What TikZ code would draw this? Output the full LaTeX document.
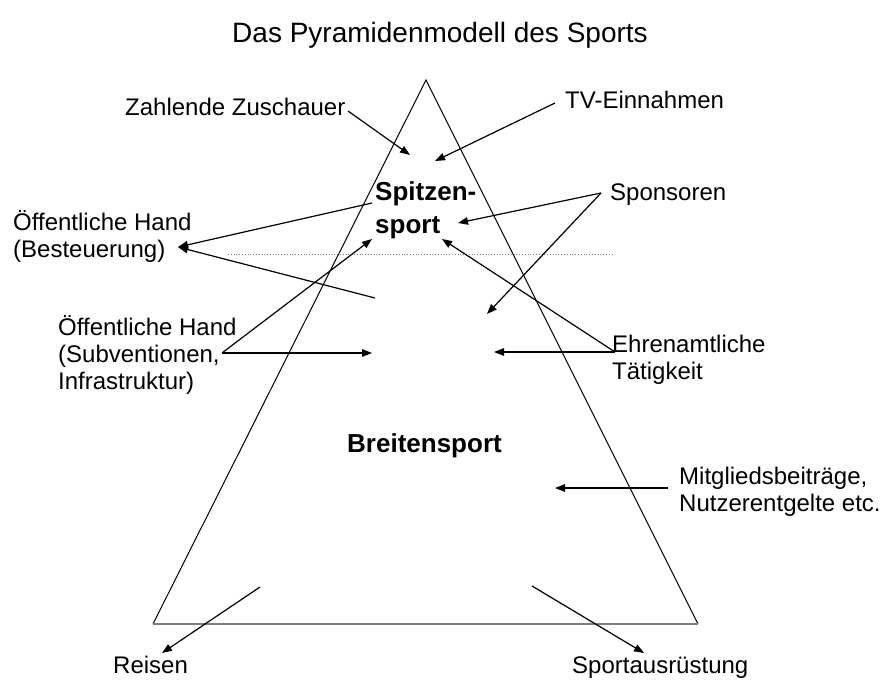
\documentclass[tikz,border=0pt]{standalone}
\usepackage{fontspec}
\setmainfont{Liberation Sans}
\usetikzlibrary{arrows.meta}
\begin{document}
\begin{tikzpicture}[x=1pt,y=-1pt,
  lbl/.style={inner sep=0pt, anchor=base west, align=left, font=\fontsize{24}{27}\selectfont},
  boldlbl/.style={inner sep=0pt, anchor=base west, align=left, font=\fontsize{26}{33}\selectfont\bfseries},
  titlelbl/.style={inner sep=0pt, anchor=base, font=\fontsize{28}{32}\selectfont},
  arr/.style={line width=1.2pt, -{Triangle[length=10pt,width=7.5pt]}},
  side/.style={line width=1pt, black},
  baseln/.style={line width=2pt, gray},
  divider/.style={line width=0.8pt, gray, dotted}]
\useasboundingbox (0,0) rectangle (880,680);

% pyramid
\coordinate (apex) at (426,80);
\coordinate (bl) at (153,624);
\coordinate (br) at (698,624);
\draw[side] (bl) -- (apex) -- (br);
\draw[baseln] (bl) -- (br);
\coordinate (dl) at (228,254);
\coordinate (dr) at (613,254);
\draw[divider] (dl) -- (dr);

% texts (base anchor of a multi-line node = baseline of its last line)
\node[titlelbl] (title) at (440,42) {Das Pyramidenmodell des Sports};
\node[lbl] (zuschauer) at (125,115) {Zahlende Zuschauer};
\node[lbl] (tv) at (565,108) {TV-Einnahmen};
\node[boldlbl] (spitze) at (375,233) {Spitzen-\\sport};
\node[lbl] (sponsoren) at (610,200) {Sponsoren};
\node[lbl] (steuer) at (13,257) {Öffentliche Hand\\(Besteuerung)};
\node[lbl] (subv) at (58,389) {Öffentliche Hand\\(Subventionen,\\Infrastruktur)};
\node[lbl] (ehren) at (612,379) {Ehrenamtliche\\Tätigkeit};
\node[boldlbl] (breite) at (347,452) {Breitensport};
\node[lbl] (mitglied) at (679,511) {Mitgliedsbeiträge,\\Nutzerentgelte etc.};
\node[lbl] (reisen) at (113,673) {Reisen};
\node[lbl] (ausruest) at (572,673) {Sportausrüstung};

% connector end points
\coordinate (zsA) at (348,111);  \coordinate (zsB) at (410,155);
\coordinate (tvA) at (555,103);  \coordinate (tvB) at (435,161);
\coordinate (stTip) at (178,247);
\coordinate (stA) at (372,203);  \coordinate (stB) at (375,298);
\coordinate (suA) at (222,353);
\coordinate (suB) at (372,353);  \coordinate (suC) at (372,239);
\coordinate (spA) at (601,193);
\coordinate (spB) at (458,223);  \coordinate (spC) at (487,314);
\coordinate (ehA) at (615,352);
\coordinate (ehB) at (494,352);  \coordinate (ehC) at (442,239);
\coordinate (mgA) at (668,488);  \coordinate (mgB) at (555,488);
\coordinate (reA) at (260,587);  \coordinate (reB) at (162,653);
\coordinate (auA) at (532,586);  \coordinate (auB) at (644,653);

% connectors
\draw[arr] (zsA) -- (zsB);
\draw[arr] (tvA) -- (tvB);
\draw[arr] (stA) -- (stTip);
\draw[arr] (stB) -- (stTip);
\draw[arr] (suA) -- (suB);
\draw[arr] (suA) -- (suC);
\draw[arr] (spA) -- (spB);
\draw[arr] (spA) -- (spC);
\draw[arr] (ehA) -- (ehB);
\draw[arr] (ehA) -- (ehC);
\draw[arr] (mgA) -- (mgB);
\draw[arr] (reA) -- (reB);
\draw[arr] (auA) -- (auB);
\end{tikzpicture}
\end{document}
